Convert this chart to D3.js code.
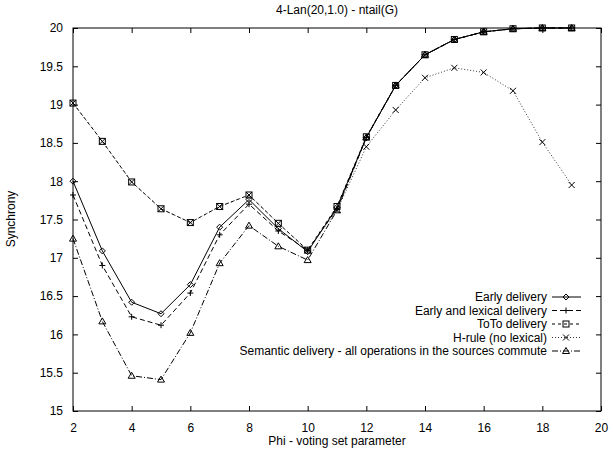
<!DOCTYPE html>
<html><head><meta charset="utf-8">
<script src="https://cdn.jsdelivr.net/npm/d3@7"></script>
<style>body{margin:0;background:#fff}svg{display:block}text{font-family:"Liberation Sans",Arial,sans-serif;font-size:12px;fill:#000}</style>
</head><body><svg id="c" width="613" height="452"></svg>
<script>
const phi = [2,3,4,5,6,7,8,9,10,11,12,13,14,15,16,17,18,19];
const early = [18.0,17.09,16.42,16.27,16.65,17.4,17.76,17.38,17.08,17.66,18.57,19.25,19.65,19.85,19.95,19.99,20.0,20.0];
const earlyLex = [17.82,16.9,16.23,16.12,16.54,17.3,17.7,17.35,17.1,17.64,18.57,19.25,19.65,19.85,19.95,19.99,20.0,20.0];
const toto = [19.02,18.52,17.99,17.64,17.46,17.67,17.82,17.45,17.1,17.67,18.58,19.25,19.65,19.85,19.95,19.99,20.0,20.0];
const hrule = [19.02,18.52,17.99,17.64,17.46,17.67,17.82,17.45,17.1,17.62,18.45,18.93,19.35,19.48,19.42,19.18,18.51,17.95];
const semantic = [17.25,16.17,15.46,15.41,16.02,16.93,17.42,17.15,16.97,17.62,18.57,19.25,19.65,19.85,19.95,19.99,20.0,20.0];
const seriesNames = ["Early delivery","Early and lexical delivery","ToTo delivery","H-rule (no lexical)","Semantic delivery - all operations in the sources commute"];
const xTicks = [2,4,6,8,10,12,14,16,18,20];
const yTicks = [15,15.5,16,16.5,17,17.5,18,18.5,19,19.5,20];
const title = "4-Lan(20,1.0) -  ntail(G)";
const xLabel = "Phi - voting set parameter";
const yLabel = "Synchrony";

const styles = [
  {dash:null, marker:"diamond", color:"#000", w:1},
  {dash:"5,3", marker:"plus", color:"#000", w:1},
  {dash:"3,3", marker:"square", color:"#000", w:1},
  {dash:"1,2", marker:"cross", color:"#333", w:1},
  {dash:"6,2,1,2", marker:"triangle", color:"#000", w:1}
];
const data = [early, earlyLex, toto, hrule, semantic];

const svg = d3.select("#c");
const L=73, R=601, T=28, B=411;
const x = d3.scaleLinear().domain([2,20]).range([L,R]);
const y = d3.scaleLinear().domain([15,20]).range([B,T]);

function marker(g, type, cx, cy){
  const s=3;
  if(type==="diamond") g.append("path").attr("d",`M${cx},${cy-s}L${cx+s},${cy}L${cx},${cy+s}L${cx-s},${cy}Z`).attr("fill","none").attr("stroke","#000");
  else if(type==="plus") g.append("path").attr("d",`M${cx-s},${cy}H${cx+s}M${cx},${cy-s}V${cy+s}`).attr("stroke","#000");
  else if(type==="square") g.append("rect").attr("x",cx-s).attr("y",cy-s).attr("width",2*s).attr("height",2*s).attr("fill","none").attr("stroke","#000");
  else if(type==="cross") g.append("path").attr("d",`M${cx-s},${cy-s}L${cx+s},${cy+s}M${cx-s},${cy+s}L${cx+s},${cy-s}`).attr("stroke","#000");
  else if(type==="triangle") g.append("path").attr("d",`M${cx},${cy-s-0.5}L${cx+s+0.5},${cy+s-0.5}L${cx-s-0.5},${cy+s-0.5}Z`).attr("fill","none").attr("stroke","#000");
}

const tickLen = 5;
const ax = svg.append("g");
ax.append("g").attr("transform",`translate(0,${B})`).call(d3.axisBottom(x).tickValues(xTicks).tickSize(-tickLen).tickPadding(12).tickFormat(d3.format("d")))
  .call(g=>g.select(".domain").remove());
ax.append("g").attr("transform",`translate(0,${T})`).call(d3.axisTop(x).tickValues(xTicks).tickSize(-tickLen).tickFormat(""))
  .call(g=>g.select(".domain").remove());
ax.append("g").attr("transform",`translate(${L},0)`).call(d3.axisLeft(y).tickValues(yTicks).tickSize(-tickLen).tickPadding(10).tickFormat(d=>String(d)))
  .call(g=>g.select(".domain").remove());
ax.append("g").attr("transform",`translate(${R},0)`).call(d3.axisRight(y).tickValues(yTicks).tickSize(-tickLen).tickFormat(""))
  .call(g=>g.select(".domain").remove());
ax.selectAll("text").style("font-family","Liberation Sans, Arial, sans-serif").style("font-size","12px");
ax.selectAll("line").attr("stroke","#000");
svg.append("rect").attr("x",L).attr("y",T).attr("width",R-L).attr("height",B-T).attr("fill","none").attr("stroke","#000").attr("stroke-width",1);

svg.append("text").attr("x",(L+R)/2).attr("y",14).attr("text-anchor","middle").text(title);
svg.append("text").attr("x",(L+R)/2).attr("y",445).attr("text-anchor","middle").text(xLabel);
svg.append("text").attr("transform","translate(15,219) rotate(-90)").attr("text-anchor","middle").text(yLabel);

const line = d3.line().x((d,i)=>x(phi[i])).y(d=>y(d));
const plot = svg.append("g");
data.forEach((vals,k)=>{
  const st = styles[k];
  plot.append("path").attr("d",line(vals)).attr("fill","none").attr("stroke",st.color).attr("stroke-width",st.w)
    .attr("stroke-dasharray",st.dash);
  const mg = plot.append("g");
  vals.forEach((v,i)=>marker(mg, st.marker, x(phi[i]), y(v)));
});

const legY0 = 297, legDy = 13.5;
seriesNames.forEach((n,k)=>{
  const st = styles[k];
  const yy = legY0 + k*legDy;
  svg.append("text").attr("x",547).attr("y",yy+4).attr("text-anchor","end").text(n);
  svg.append("line").attr("x1",552).attr("x2",581).attr("y1",yy).attr("y2",yy).attr("stroke",st.color).attr("stroke-dasharray",st.dash);
  marker(svg, st.marker, 566, yy);
});
</script></body></html>
